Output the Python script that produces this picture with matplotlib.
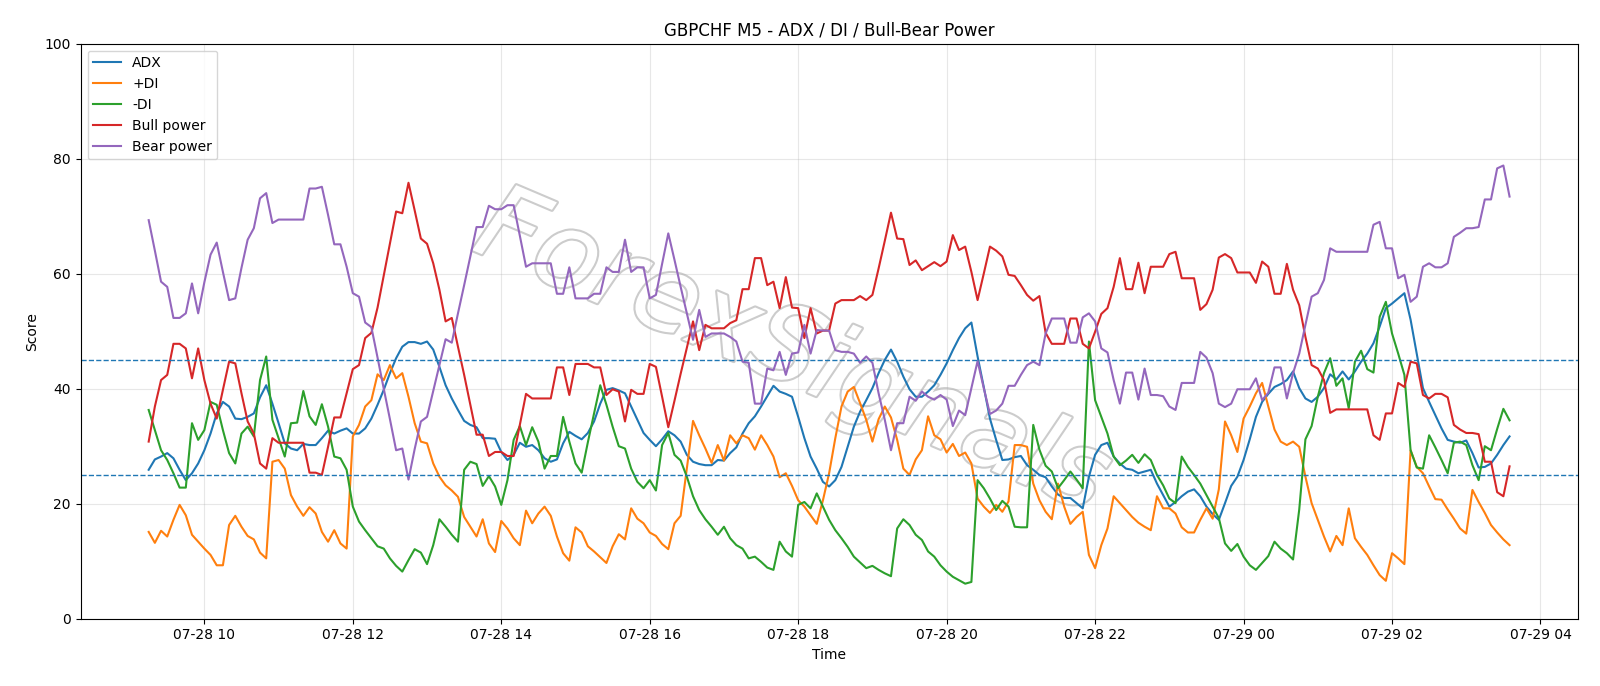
import matplotlib
matplotlib.use("Agg")
import matplotlib.pyplot as plt
import matplotlib.dates as mdates
import matplotlib.patheffects as pe
import pandas as pd

# 5-minute bars, 07-28 09:15 .. 07-29 03:35
times = pd.date_range("2025-07-28 09:15", periods=221, freq="5min")

adx = [25.9, 27.7, 28.2, 28.8, 27.9, 25.9, 24.1, 25.3, 27.0, 29.3,
       32.2, 35.7, 37.7, 36.9, 34.8, 34.7, 35.1, 35.7, 38.5, 40.6,
       37.4, 34.0, 30.5, 29.6, 29.3, 30.4, 30.2, 30.2, 31.4, 32.7,
       32.2, 32.7, 33.1, 32.2, 32.2, 33.1, 34.8, 37.2, 39.8, 42.7,
       45.3, 47.3, 48.1, 48.1, 47.8, 48.2, 46.8, 43.8, 40.6, 38.3,
       36.3, 34.4, 33.7, 33.3, 31.4, 31.4, 31.3, 29.0, 27.6, 28.5,
       30.6, 29.9, 30.2, 29.3, 27.9, 27.3, 27.7, 30.5, 32.5, 31.8,
       31.2, 32.3, 34.3, 37.4, 39.8, 40.1, 39.7, 39.2, 36.9, 34.6,
       32.3, 31.1, 30.0, 31.2, 32.6, 31.9, 30.8, 28.5, 27.3, 26.9,
       26.7, 26.7, 27.6, 27.5, 28.8, 29.8, 32.2, 34.0, 35.2, 36.9,
       38.7, 40.5, 39.5, 39.1, 38.6, 35.1, 31.4, 28.2, 26.1, 23.8,
       23.0, 24.1, 26.4, 29.9, 33.4, 36.0, 38.0, 40.1, 42.7, 45.0,
       46.8, 44.7, 42.1, 39.9, 38.6, 38.6, 39.5, 40.6, 42.4, 44.4,
       46.7, 48.8, 50.5, 51.5, 45.6, 40.3, 34.8, 31.1, 27.6, 27.7,
       28.1, 28.3, 26.7, 25.9, 25.0, 24.6, 23.0, 21.6, 21.0, 21.0,
       20.1, 19.2, 24.7, 28.5, 30.2, 30.6, 28.2, 27.0, 26.1, 25.9,
       25.3, 25.6, 25.9, 23.5, 21.5, 19.5, 20.3, 21.3, 22.1, 22.5,
       21.3, 19.5, 18.2, 17.2, 20.1, 23.1, 24.7, 27.6, 31.2, 35.1,
       37.7, 39.1, 40.3, 40.8, 41.5, 43.0, 40.1, 38.3, 37.7, 38.6,
       40.1, 42.5, 41.6, 43.0, 41.6, 43.0, 44.7, 46.1, 47.9, 50.8,
       54.0, 54.8, 55.7, 56.6, 52.0, 46.1, 40.1, 37.7, 35.4, 33.1,
       31.1, 30.8, 30.6, 31.0, 28.8, 26.3, 26.4, 27.0, 28.5, 30.2,
       31.7]

plus_di = [15.1, 13.2, 15.3, 14.3, 17.2, 19.8, 18.0, 14.6, 13.4, 12.2,
           11.1, 9.3, 9.3, 16.3, 17.9, 16.0, 14.4, 13.8, 11.5, 10.5,
           27.3, 27.6, 26.1, 21.5, 19.5, 17.9, 19.4, 18.3, 15.1, 13.4,
           15.4, 13.1, 12.2, 31.7, 33.7, 36.9, 38.0, 42.5, 41.5, 44.1,
           41.8, 42.7, 38.6, 34.0, 30.8, 30.5, 27.0, 24.7, 23.2, 22.3,
           21.2, 17.7, 16.0, 14.3, 17.3, 13.1, 11.6, 17.0, 15.7, 14.0,
           12.8, 18.8, 16.6, 18.3, 19.5, 17.9, 14.3, 11.4, 10.1, 15.9,
           15.0, 12.6, 11.7, 10.7, 9.7, 12.6, 14.7, 13.8, 19.2, 17.4,
           16.6, 15.0, 14.4, 13.0, 12.1, 16.6, 17.9, 26.1, 34.4, 31.9,
           29.6, 27.1, 30.2, 27.5, 31.9, 30.5, 31.9, 31.4, 29.4, 31.9,
           30.2, 28.2, 24.6, 25.3, 23.1, 20.6, 19.5, 18.0, 16.5, 20.6,
           25.3, 31.4, 36.9, 39.5, 40.3, 37.5, 34.6, 30.8, 34.7, 36.9,
           35.0, 31.1, 26.1, 25.0, 27.7, 29.3, 35.2, 31.9, 31.2, 28.9,
           30.4, 28.3, 28.9, 27.0, 20.9, 19.5, 18.4, 19.8, 18.6, 20.4,
           30.2, 30.2, 29.9, 23.5, 20.6, 18.6, 17.3, 23.5, 19.5, 16.5,
           17.7, 18.6, 11.1, 8.8, 12.8, 15.7, 21.3, 20.1, 18.9, 17.7,
           16.7, 16.0, 15.4, 21.3, 19.2, 19.2, 18.3, 15.9, 15.0, 15.0,
           17.2, 19.2, 17.4, 22.5, 34.3, 31.9, 29.0, 34.8, 36.9, 39.2,
           41.0, 36.9, 32.9, 30.8, 30.2, 30.8, 29.9, 24.7, 20.1, 17.2,
           14.3, 11.7, 14.4, 12.8, 19.2, 14.0, 12.5, 11.1, 9.3, 7.6,
           6.6, 11.4, 10.5, 9.5, 29.3, 26.4, 25.3, 23.0, 20.8, 20.7,
           19.0, 17.4, 15.7, 14.8, 22.4, 20.3, 18.4, 16.3, 15.0, 13.8,
           12.8]

minus_di = [36.3, 32.8, 29.3, 27.6, 25.3, 22.8, 22.8, 34.0, 31.1, 32.8,
            37.7, 37.2, 32.8, 28.8, 27.0, 32.2, 33.4, 31.7, 41.5, 45.6,
            34.6, 31.4, 28.2, 34.0, 34.1, 39.6, 35.2, 33.7, 37.3, 33.4,
            28.2, 27.9, 25.9, 19.5, 16.9, 15.4, 14.0, 12.6, 12.2, 10.5,
            9.2, 8.2, 10.2, 12.1, 11.5, 9.5, 12.8, 17.3, 16.0, 14.6,
            13.4, 25.9, 27.3, 26.9, 23.1, 24.8, 23.0, 19.8, 24.1, 31.1,
            33.5, 30.2, 33.3, 30.8, 26.1, 28.3, 28.3, 35.1, 30.8, 27.0,
            25.4, 30.7, 35.7, 40.6, 37.2, 33.4, 30.0, 29.6, 26.1, 23.8,
            22.7, 24.1, 22.3, 30.2, 32.3, 28.5, 27.5, 24.7, 21.3, 18.9,
            17.3, 16.0, 14.6, 16.0, 14.0, 12.8, 12.2, 10.5, 10.8, 9.9,
            8.9, 8.5, 13.4, 11.7, 10.8, 19.8, 20.3, 19.2, 21.8, 19.5,
            17.2, 15.4, 14.0, 12.5, 10.8, 9.8, 8.8, 9.2, 8.5, 7.9,
            7.4, 15.7, 17.3, 16.3, 14.6, 13.7, 11.7, 10.8, 9.3, 8.2,
            7.3, 6.7, 6.1, 6.4, 24.1, 22.7, 20.9, 18.9, 20.5, 19.5,
            16.0, 15.9, 15.9, 33.7, 29.4, 26.6, 25.6, 22.7, 24.1, 25.6,
            24.2, 22.7, 48.2, 38.0, 35.1, 32.2, 28.2, 26.7, 27.5, 28.5,
            27.1, 28.6, 27.6, 25.0, 23.2, 20.9, 20.1, 28.2, 26.4, 25.0,
            23.5, 21.5, 19.5, 17.5, 13.1, 11.8, 13.0, 10.8, 9.3, 8.5,
            9.7, 10.9, 13.4, 12.2, 11.4, 10.3, 19.0, 31.2, 33.5, 38.6,
            42.7, 45.3, 40.5, 41.8, 36.6, 44.7, 46.6, 43.4, 42.8, 52.5,
            55.1, 49.6, 46.1, 42.4, 29.3, 26.3, 26.1, 31.9, 29.8, 27.6,
            25.3, 30.6, 30.8, 30.2, 26.7, 24.1, 30.0, 29.3, 33.0, 36.5,
            34.5]

bull_power = [30.8, 36.9, 41.5, 42.4, 47.8, 47.8, 47.0, 41.8, 47.0, 41.5,
              37.4, 34.8, 39.8, 44.7, 44.4, 39.2, 34.3, 32.2, 27.0, 26.1,
              31.4, 30.6, 30.6, 30.6, 30.6, 30.6, 25.4, 25.4, 25.0, 29.9,
              35.0, 35.0, 39.2, 43.4, 44.1, 48.8, 49.7, 54.1, 59.7, 65.2,
              70.8, 70.5, 75.8, 71.0, 66.1, 65.2, 61.8, 57.2, 51.7, 52.3,
              47.3, 42.4, 37.2, 32.0, 32.0, 28.3, 29.0, 29.0, 28.3, 28.3,
              33.7, 39.1, 38.3, 38.3, 38.3, 38.3, 43.7, 43.7, 38.9, 44.3,
              44.3, 44.3, 43.7, 43.7, 38.9, 39.9, 39.5, 34.3, 39.8, 39.1,
              39.1, 44.3, 43.8, 38.6, 33.3, 37.9, 42.6, 47.1, 51.7, 46.7,
              51.1, 50.5, 50.5, 50.5, 51.4, 51.9, 57.3, 57.3, 62.7, 62.7,
              58.0, 58.6, 54.0, 59.4, 54.1, 54.0, 48.8, 54.0, 49.6, 50.1,
              50.1, 54.8, 55.4, 55.4, 55.4, 56.1, 55.4, 56.3, 60.9, 65.7,
              70.6, 66.1, 66.0, 61.5, 62.3, 60.6, 61.3, 62.0, 61.3, 62.1,
              66.7, 64.1, 64.7, 60.3, 55.4, 60.0, 64.7, 64.0, 63.0, 59.8,
              59.6, 58.0, 56.3, 55.3, 56.1, 49.7, 47.8, 47.8, 47.8, 52.2,
              52.2, 47.8, 47.0, 49.9, 53.0, 54.0, 57.7, 62.7, 57.3, 57.3,
              61.9, 56.6, 61.2, 61.2, 61.2, 63.4, 63.8, 59.2, 59.2, 59.2,
              53.7, 54.7, 57.2, 62.8, 63.4, 62.7, 60.2, 60.2, 60.2, 58.4,
              62.1, 61.2, 56.5, 56.5, 61.7, 57.2, 54.5, 49.0, 44.1, 43.5,
              41.5, 35.8, 36.4, 36.4, 36.4, 36.4, 36.4, 36.4, 31.9, 31.1,
              35.7, 35.7, 41.0, 40.3, 44.7, 44.4, 38.9, 38.3, 39.1, 39.1,
              38.5, 33.7, 32.9, 32.3, 32.3, 32.1, 27.3, 27.3, 22.0, 21.3,
              26.5]

bear_power = [69.3, 64.0, 58.6, 57.7, 52.3, 52.3, 53.1, 58.3, 53.1, 58.5,
              63.3, 65.4, 60.3, 55.4, 55.7, 61.0, 65.9, 67.9, 73.1, 74.0,
              68.8, 69.4, 69.4, 69.4, 69.4, 69.4, 74.8, 74.8, 75.1, 70.2,
              65.1, 65.1, 61.2, 56.6, 56.0, 51.5, 50.7, 45.4, 40.0, 34.7,
              29.3, 29.6, 24.2, 29.5, 34.3, 35.1, 39.6, 44.1, 48.6, 48.0,
              53.1, 58.0, 63.0, 68.1, 68.1, 71.8, 71.2, 71.2, 71.9, 71.9,
              66.6, 61.2, 61.8, 61.8, 61.8, 61.8, 56.5, 56.5, 61.1, 55.7,
              55.7, 55.7, 56.5, 56.5, 61.1, 60.3, 60.3, 65.9, 60.3, 61.1,
              61.1, 55.7, 56.3, 61.7, 67.0, 62.4, 57.7, 53.1, 48.5, 53.7,
              49.0, 49.6, 49.6, 49.6, 49.0, 48.2, 44.7, 44.5, 37.4, 37.4,
              43.5, 43.2, 46.4, 42.4, 46.1, 46.3, 51.1, 46.1, 50.2, 50.1,
              50.1, 46.7, 46.4, 46.4, 46.1, 44.5, 45.6, 44.5, 39.2, 34.6,
              29.3, 34.0, 34.0, 38.6, 37.9, 39.5, 38.6, 38.1, 38.9, 38.1,
              33.5, 36.2, 35.4, 40.1, 44.8, 40.1, 35.6, 36.2, 37.4, 40.5,
              40.5, 42.4, 44.1, 44.7, 44.1, 49.6, 52.2, 52.2, 52.2, 48.0,
              48.0, 52.4, 53.1, 51.7, 47.0, 46.3, 41.5, 37.4, 42.8, 42.8,
              38.1, 43.5, 38.9, 38.9, 38.7, 36.9, 36.3, 41.0, 41.0, 41.0,
              46.4, 45.4, 42.7, 37.4, 36.8, 37.4, 39.9, 39.9, 39.9, 41.8,
              38.0, 39.3, 43.7, 43.7, 38.3, 42.7, 46.1, 51.1, 56.0, 56.6,
              58.9, 64.4, 63.8, 63.8, 63.8, 63.8, 63.8, 63.8, 68.5, 69.0,
              64.4, 64.4, 59.2, 59.8, 55.1, 56.0, 61.2, 61.8, 61.1, 61.1,
              61.8, 66.4, 67.1, 67.9, 67.9, 68.1, 72.9, 72.9, 78.3, 78.8,
              73.4]

fig, ax = plt.subplots(figsize=(16, 6.86), dpi=100)
fig.subplots_adjust(left=0.0504, right=0.986, top=0.9365, bottom=0.098)

ax.plot(times, adx, label="ADX")
ax.plot(times, plus_di, label="+DI")
ax.plot(times, minus_di, label="-DI")
ax.plot(times, bull_power, label="Bull power")
ax.plot(times, bear_power, label="Bear power")

ax.axhline(25, linestyle="--", linewidth=1)
ax.axhline(45, linestyle="--", linewidth=1)

# watermark (outlined, light grey)
ax.text(0.475, 0.46, "ForexSignals", transform=ax.transAxes, fontsize=76,
        color="white", rotation=-23, ha="center", va="center",
        style="italic", zorder=0.5,
        path_effects=[pe.withStroke(linewidth=3, foreground="#cccccc")])

ax.set_ylim(0, 100)
ax.set_title("GBPCHF M5 - ADX / DI / Bull-Bear Power")
ax.set_xlabel("Time")
ax.set_ylabel("Score")
ax.grid(True, alpha=0.3)
ax.legend(loc="upper left")
ax.xaxis.set_major_formatter(mdates.DateFormatter("%m-%d %H"))

fig.savefig("out.png")
